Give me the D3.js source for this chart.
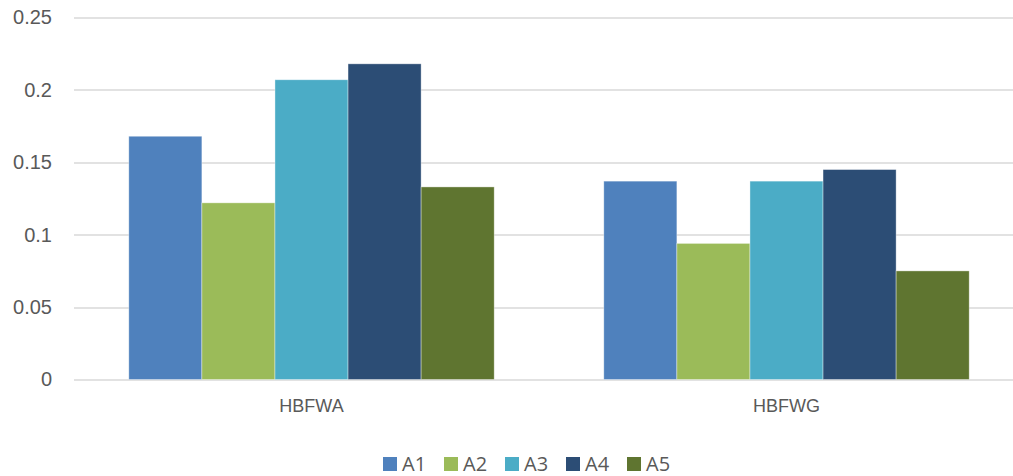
<!DOCTYPE html>
<html>
<head>
<meta charset="utf-8">
<script src="https://cdn.jsdelivr.net/npm/d3@7"></script>
<style>
  body { margin: 0; background: #fff; overflow: hidden; }
  svg { display: block; font-family: "Open Sans", sans-serif; }
</style>
</head>
<body>
<div class="BarChart"></div>
<script>
const categories = ["HBFWA", "HBFWG"];
const seriesNames = ["A1", "A2", "A3", "A4", "A5"];
const seriesColors = ["#4f81bd", "#9bbb59", "#4bacc6", "#2c4d75", "#5f7530"];
const values = {
  A1: [0.168, 0.137],
  A2: [0.122, 0.094],
  A3: [0.207, 0.137],
  A4: [0.218, 0.145],
  A5: [0.133, 0.075]
};
const yTicks = [0, 0.05, 0.1, 0.15, 0.2, 0.25];
const yTickLabels = ["0", "0.05", "0.1", "0.15", "0.2", "0.25"];

function setupSvg() {
  const margin = { top: 17.5, left: 74 },
    width = 950,
    height = 362;

  const svg = d3.select(".BarChart")
    .append("svg")
    .attr("width", 1013)
    .attr("height", 476);

  const g = svg.append("g")
    .attr("transform", `translate(${margin.left},${margin.top})`);

  return { svg, g, margin, width, height };
}

function setupScales(width, height) {
  const x = d3.scaleBand()
    .domain(categories)
    .range([0, width])
    .paddingInner(0)
    .paddingOuter(0);

  // gap width 150% of a bar => cluster is 5/6.5 of the band
  const x1 = d3.scaleBand()
    .domain(seriesNames)
    .range([0, x.bandwidth() * 5 / 6.5]);

  const y = d3.scaleLinear()
    .domain([0, 0.25])
    .range([height, 0]);

  return { x, x1, y };
}

function drawAxes(g, x, y, width, height) {
  g.append("g")
    .selectAll("line")
    .data(yTicks)
    .join("line")
    .attr("x1", 0)
    .attr("x2", width)
    .attr("y1", d => Math.round(y(d)) + 0.5)
    .attr("y2", d => Math.round(y(d)) + 0.5)
    .attr("stroke", "#d9d9d9")
    .attr("stroke-width", 1.5);

  const yAxis = g.append("g")
    .call(d3.axisLeft(y).tickValues(yTicks).tickFormat((d, i) => yTickLabels[i]).tickSize(0).tickPadding(22));
  yAxis.select(".domain").remove();
  yAxis.selectAll("text")
    .attr("fill", "#595959")
    .style("font-size", "20px");

  const xAxis = g.append("g")
    .attr("transform", `translate(0,${height})`)
    .call(d3.axisBottom(x).tickSize(0).tickPadding(20));
  xAxis.select(".domain").remove();
  xAxis.selectAll("text")
    .attr("fill", "#595959")
    .style("font-size", "18px");
}

function drawBars(g, x, x1, y, height) {
  const offset = (x.bandwidth() - x1.range()[1]) / 2;
  const groups = g.append("g")
    .selectAll("g")
    .data(categories)
    .join("g")
    .attr("transform", d => `translate(${x(d) + offset},0)`);

  groups.selectAll("rect")
    .data((c, ci) => seriesNames.map((s, si) => ({ s, si, v: values[s][ci] })))
    .join("rect")
    .attr("x", d => x1(d.s))
    .attr("y", d => y(d.v))
    .attr("width", x1.bandwidth())
    .attr("height", d => height - y(d.v))
    .attr("fill", d => seriesColors[d.si])
    .attr("stroke", "#ffffff")
    .attr("stroke-opacity", 0.5)
    .attr("stroke-width", 0.75);
}

function drawLegend(svg) {
  const legend = svg.append("g")
    .attr("transform", "translate(383,457)");

  const items = legend.selectAll("g")
    .data(seriesNames)
    .join("g")
    .attr("transform", (d, i) => `translate(${i * 61},0)`);

  items.append("rect")
    .attr("width", 14)
    .attr("height", 14)
    .attr("fill", (d, i) => seriesColors[i]);

  items.append("text")
    .attr("x", 19)
    .attr("y", 14)
    .attr("fill", "#595959")
    .style("font-size", "20px")
    .text(d => d);
}

function createBarChart() {
  const { svg, g, width, height } = setupSvg();
  const { x, x1, y } = setupScales(width, height);
  drawAxes(g, x, y, width, height);
  drawBars(g, x, x1, y, height);
  drawLegend(svg);
}

createBarChart();
</script>
</body>
</html>
